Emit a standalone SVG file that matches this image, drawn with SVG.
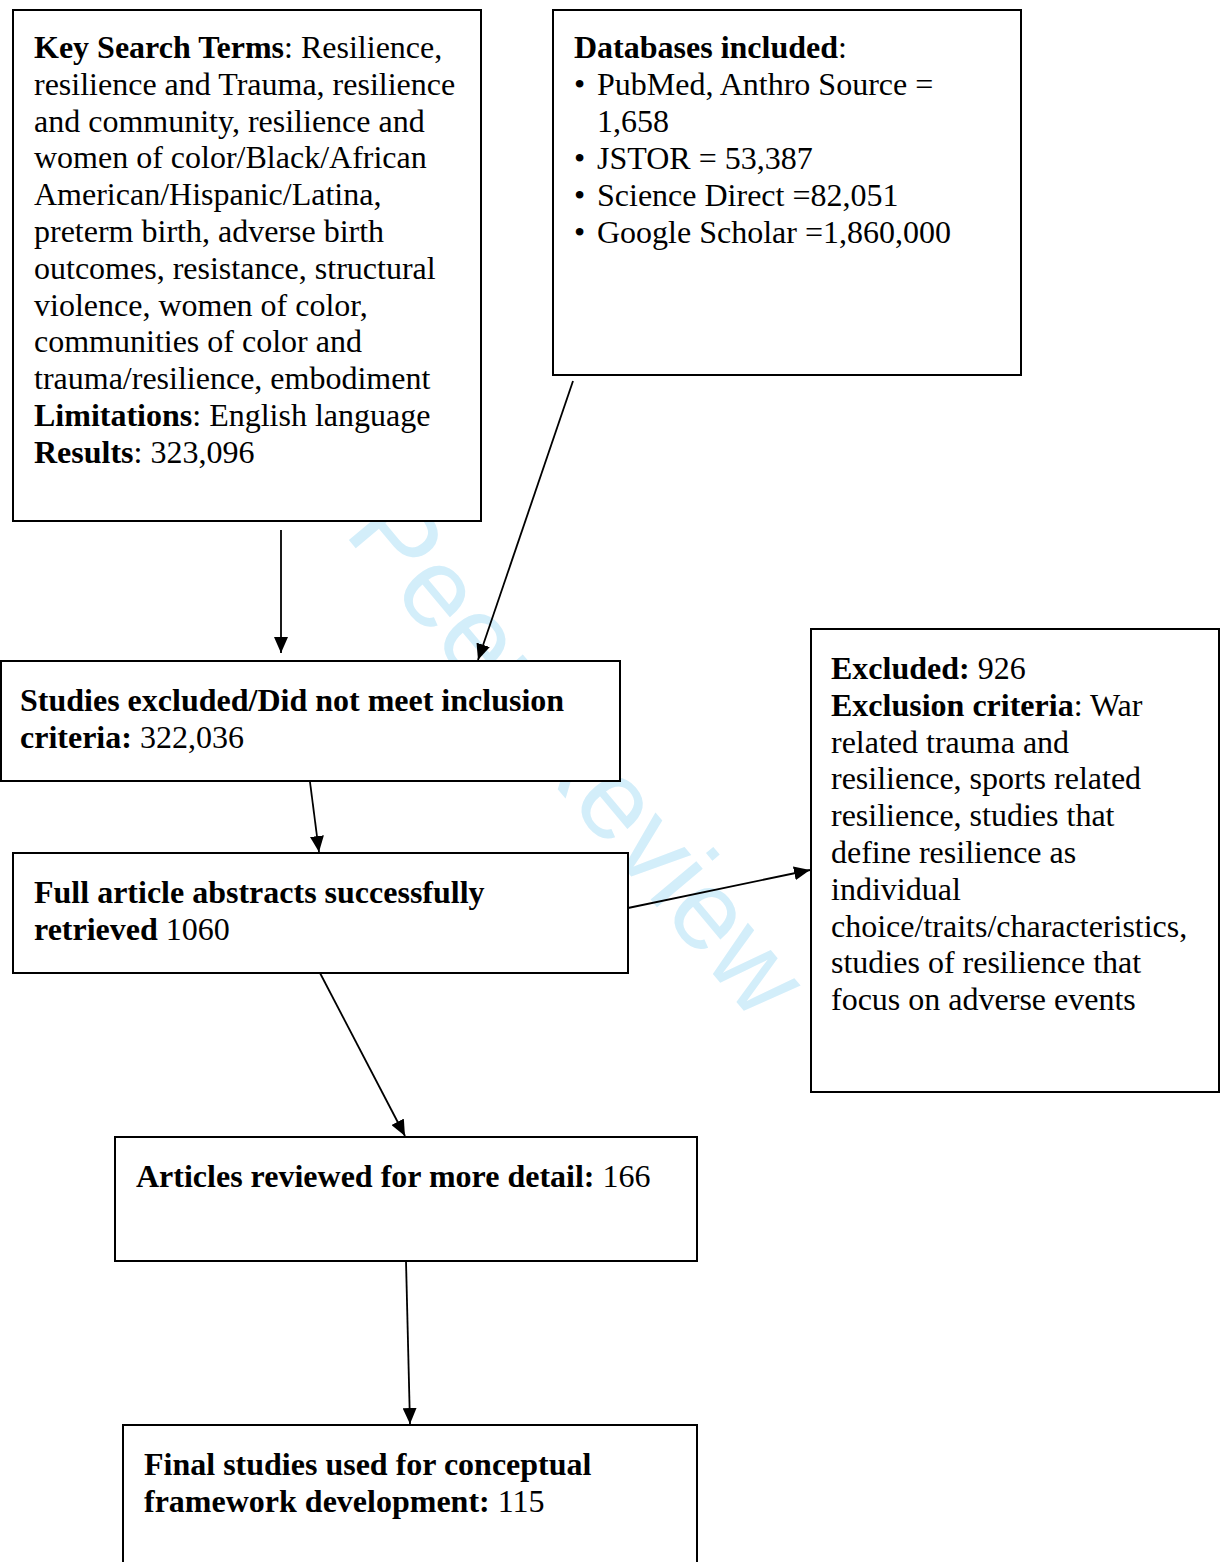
<svg xmlns="http://www.w3.org/2000/svg" width="1222" height="1562" viewBox="0 0 1222 1562">
<style>
.bg{fill:#ffffff}
.box{fill:#ffffff;stroke:#000000;stroke-width:2}
.t{font-family:"Liberation Serif","Times New Roman",serif;font-size:32px;fill:#000000}
.b{font-weight:bold}
.wm{font-family:"Liberation Sans",Arial,sans-serif;font-size:113px;fill:#d3eefa}
.c{stroke:#000000;stroke-width:1.8;fill:none;marker-end:url(#ah)}
</style>
<defs>
<marker id="ah" viewBox="0 0 16 14" refX="16" refY="7" markerWidth="16" markerHeight="14" markerUnits="userSpaceOnUse" orient="auto">
<path d="M0,0 L16,7 L0,14 Z" fill="#000000"/>
</marker>
</defs>
<rect class="bg" x="0" y="0" width="1222" height="1562"/>
<text class="wm" transform="translate(343,533) rotate(50)">Peer Review</text>
<g id="connectors">
<line class="c" x1="281" y1="530" x2="281" y2="653"/>
<line class="c" x1="573" y1="381" x2="478" y2="660"/>
<line class="c" x1="310" y1="782" x2="319" y2="852"/>
<line class="c" x1="628" y1="908" x2="810" y2="870"/>
<line class="c" x1="320" y1="973" x2="405" y2="1136"/>
<line class="c" x1="406" y1="1261" x2="410" y2="1424"/>
</g>
<g id="key-search">
<rect class="box" x="13" y="10" width="468" height="511"/>
<text class="t" x="34" y="58"><tspan class="b">Key Search Terms</tspan>: Resilience,</text>
<text class="t" x="34" y="95">resilience and Trauma, resilience</text>
<text class="t" x="34" y="132">and community, resilience and</text>
<text class="t" x="34" y="168">women of color/Black/African</text>
<text class="t" x="34" y="205">American/Hispanic/Latina,</text>
<text class="t" x="34" y="242">preterm birth, adverse birth</text>
<text class="t" x="34" y="279">outcomes, resistance, structural</text>
<text class="t" x="34" y="316">violence, women of color,</text>
<text class="t" x="34" y="352">communities of color and</text>
<text class="t" x="34" y="389">trauma/resilience, embodiment</text>
<text class="t" x="34" y="426"><tspan class="b">Limitations</tspan>: English language</text>
<text class="t" x="34" y="463"><tspan class="b">Results</tspan>: 323,096</text>
</g>
<g id="databases">
<rect class="box" x="553" y="10" width="468" height="365"/>
<text class="t" x="574" y="58"><tspan class="b">Databases included</tspan>:</text>
<text class="t" x="574" y="95">•</text><text class="t" x="597" y="95">PubMed, Anthro Source =</text>
<text class="t" x="597" y="132">1,658</text>
<text class="t" x="574" y="169">•</text><text class="t" x="597" y="169">JSTOR = 53,387</text>
<text class="t" x="574" y="206">•</text><text class="t" x="597" y="206">Science Direct =82,051</text>
<text class="t" x="574" y="243">•</text><text class="t" x="597" y="243">Google Scholar =1,860,000</text>
</g>
<g id="studies-excluded">
<rect class="box" x="1" y="661" width="619" height="120"/>
<text class="t" x="20" y="711"><tspan class="b">Studies excluded/Did not meet inclusion</tspan></text>
<text class="t" x="20" y="748"><tspan class="b">criteria:</tspan> 322,036</text>
</g>
<g id="full-article">
<rect class="box" x="13" y="853" width="615" height="120"/>
<text class="t" x="34" y="903"><tspan class="b">Full article abstracts successfully</tspan></text>
<text class="t" x="34" y="940"><tspan class="b">retrieved</tspan> 1060</text>
</g>
<g id="excluded">
<rect class="box" x="811" y="629" width="408" height="463"/>
<text class="t" x="831" y="679"><tspan class="b">Excluded:</tspan> 926</text>
<text class="t" x="831" y="716"><tspan class="b">Exclusion criteria</tspan>: War</text>
<text class="t" x="831" y="753">related trauma and</text>
<text class="t" x="831" y="789">resilience, sports related</text>
<text class="t" x="831" y="826">resilience, studies that</text>
<text class="t" x="831" y="863">define resilience as</text>
<text class="t" x="831" y="900">individual</text>
<text class="t" x="831" y="937">choice/traits/characteristics,</text>
<text class="t" x="831" y="973">studies of resilience that</text>
<text class="t" x="831" y="1010">focus on adverse events</text>
</g>
<g id="articles-reviewed">
<rect class="box" x="115" y="1137" width="582" height="124"/>
<text class="t" x="136" y="1187"><tspan class="b">Articles reviewed for more detail:</tspan> 166</text>
</g>
<g id="final-studies">
<rect class="box" x="123" y="1425" width="574" height="200"/>
<text class="t" x="144" y="1475"><tspan class="b">Final studies used for conceptual</tspan></text>
<text class="t" x="144" y="1512"><tspan class="b">framework development:</tspan> 115</text>
</g>
</svg>
